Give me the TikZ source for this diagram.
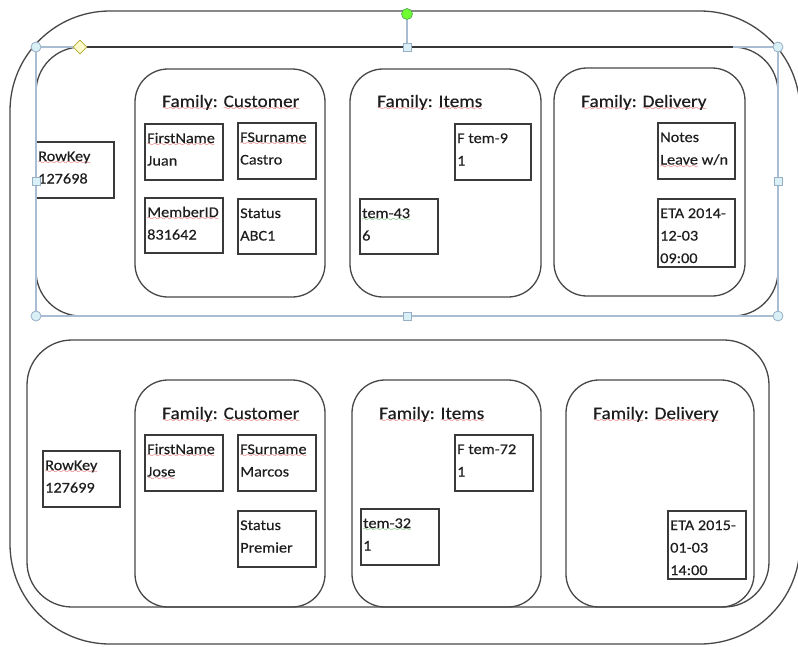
\documentclass[tikz,border=0pt]{standalone}
\usepackage{fontspec}
\setmainfont[FakeStretch=1.1,FakeBold=0.35]{Carlito}
\usetikzlibrary{shapes.geometric}
\definecolor{wavred}{HTML}{E0262A}
\definecolor{wavgreen}{HTML}{2E9E2E}
\definecolor{txt}{HTML}{1E1E1E}
\definecolor{shp}{HTML}{474747}
\definecolor{cel}{HTML}{3A3A3A}
\definecolor{sel}{HTML}{A9BDD2}
\definecolor{selfill}{HTML}{D8F0F6}
\definecolor{selrim}{HTML}{98AFC6}
\font\wavyfont=lasy8
\newsavebox\wavbox
\newcommand\wavword[2]{\leavevmode\sbox\wavbox{#2}\rlap{\textcolor{#1}{\lower3.5pt\hbox to\wd\wavbox{\xleaders\hbox{\wavyfont\char58}\hfil}}}\usebox\wavbox}
\newcommand\rwv[1]{\wavword{wavred}{#1}}
\newcommand\gwv[1]{\wavword{wavgreen}{#1}}
\newcommand\cell[6]{%
  \draw[cellbox] (#2,#3) rectangle (#4,#5);
  \node[celltext] (#1) at (#2+2,#3+19) {\parbox[t]{100pt}{\raggedright #6}};}
\begin{document}
\begin{tikzpicture}[x=1pt,y=-1pt,
  shapeline/.style={draw=shp,line width=1.3pt},
  famline/.style={draw=shp,line width=1.3pt,rounded corners=33pt},
  rowline/.style={draw=shp,line width=1.3pt,rounded corners=45pt},
  cellbox/.style={draw=cel,line width=1.6pt},
  celltext/.style={anchor=base west,inner sep=0pt,text=txt,font=\fontsize{14.8}{22.5}\selectfont},
  titletext/.style={anchor=base west,inner sep=0pt,text=txt,font=\fontsize{17.5}{21}\selectfont},
  selline/.style={draw=sel,line width=1.5pt},
  hcircle/.style={circle,draw=selrim,fill=selfill,line width=0.8pt,minimum size=10pt,inner sep=0pt},
  hsquare/.style={rectangle,draw=selrim,fill=selfill,line width=0.8pt,minimum size=8pt,inner sep=0pt},
  hrot/.style={circle,draw=green!45!black!70,fill=green!60!lime!80!white,line width=0.6pt,minimum size=11pt,inner sep=0pt},
  hadj/.style={diamond,draw=olive!70,fill=yellow!90!orange!20,line width=0.6pt,minimum size=14pt,inner sep=0pt}]
\useasboundingbox (0,0) rectangle (798,646);
\fill[white] (0,0) rectangle (798,646);
\begin{scope}
\clip (0,0) rectangle (798,646);
\draw[shapeline,rounded corners=100pt] (10,11) rectangle (800,644);
\end{scope}

% ---------- top row ----------
\draw[rowline] (36,47) rectangle (778,316);
\draw[famline] (135,69) rectangle (325,297);
\draw[famline] (350,69) rectangle (541,297);
\draw[famline] (554,68) rectangle (745,296);
\node[titletext] (t11) at (162,107) {\rwv{Family}: \rwv{Customer}};
\node[titletext] (t12) at (377,107) {\rwv{Family}: \rwv{Items}};
\node[titletext] (t13) at (581,107) {\rwv{Family}: \rwv{Delivery}};
\cell{rk1}{36}{142}{114}{198}{\rwv{RowKey}\\127698}
\cell{c11}{145}{124}{223}{180}{\rwv{FirstName}\\Juan}
\cell{c12}{238}{123}{316}{179}{\rwv{FSurname}\\Castro}
\cell{c13}{145}{198}{223}{253}{\rwv{MemberID}\\831642}
\cell{c14}{238}{199}{316}{254}{Status\\ABC1}
\cell{i11}{455}{124}{531}{180}{F tem-9\\1}
\cell{i12}{360}{199}{438}{254}{\gwv{tem-43}\\6}
\cell{d11}{658}{123}{735}{179}{Notes\\\rwv{Leave} w/n}
\cell{d12}{658}{199}{735}{267}{ETA 2014-\\12-03\\09:00}

% ---------- bottom row ----------
\draw[rowline] (27,340) rectangle (769,607);
\draw[famline] (135,380) rectangle (325,607);
\draw[famline] (352,380) rectangle (541,607);
\draw[famline] (566,380) rectangle (754,607);
\node[titletext] (t21) at (162,419) {\rwv{Family}: \rwv{Customer}};
\node[titletext] (t22) at (379,419) {\rwv{Family}: \rwv{Items}};
\node[titletext] (t23) at (593,419) {\rwv{Family}: \rwv{Delivery}};
\cell{rk2}{43}{451}{120}{507}{\rwv{RowKey}\\127699}
\cell{c21}{145}{435}{223}{491}{\rwv{FirstName}\\\rwv{Jose}}
\cell{c22}{238}{435}{316}{491}{\rwv{FSurname}\\Marcos}
\cell{c23}{238}{511}{316}{567}{Status\\Premier}
\cell{i21}{455}{435}{533}{491}{F tem-72\\1}
\cell{i22}{361}{509}{439}{565}{\gwv{tem-32}\\1}
\cell{d21}{668}{511}{746}{579}{ETA 2015-\\01-03\\14:00}

% ---------- selection handles ----------
\draw[selline] (36,47) rectangle (778,316);
\draw[draw=shp!80!black,line width=1.3pt] (80,47) -- (733,47);
\node[hrot] (rot) at (407,14) {};
\node[hsquare] (hn) at (407,47) {};
\draw[selline] (rot) -- (hn);
\node[hsquare] (hs) at (407,316) {};
\node[hsquare] (hw) at (36,181) {};
\node[hsquare] (he) at (778,181) {};
\node[hcircle] (hnw) at (36,47) {};
\node[hcircle] (hne) at (778,47) {};
\node[hcircle] (hsw) at (36,316) {};
\node[hcircle] (hse) at (778,316) {};
\node[hadj] (adj) at (80,47) {};
\end{tikzpicture}
\end{document}
